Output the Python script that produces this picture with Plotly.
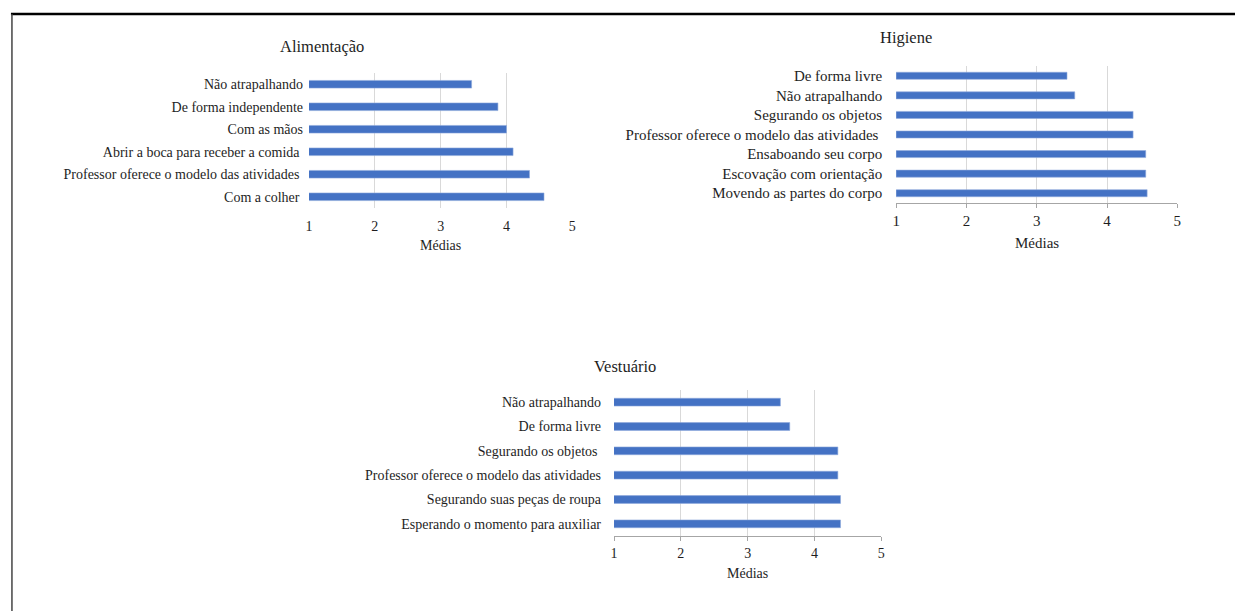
import plotly.graph_objects as go

# --- data -----------------------------------------------------------------
alim_labels = [
    "Não atrapalhando",
    "De forma independente",
    "Com as mãos",
    "Abrir a boca para receber a comida\u00a0",
    "Professor oferece o modelo das atividades\u00a0",
    "Com a colher\u00a0",
]
alim_values = [3.47, 3.87, 4.00, 4.10, 4.35, 4.57]

hig_labels = [
    "De forma livre",
    "Não atrapalhando",
    "Segurando os objetos",
    "Professor oferece o modelo das atividades\u00a0",
    "Ensaboando seu corpo",
    "Escovação com orientação",
    "Movendo as partes do corpo",
]
hig_values = [3.43, 3.54, 4.37, 4.37, 4.55, 4.55, 4.57]

vest_labels = [
    "Não atrapalhando",
    "De forma livre",
    "Segurando os objetos\u00a0",
    "Professor oferece o modelo das atividades",
    "Segurando suas peças de roupa",
    "Esperando o momento para auxiliar",
]
vest_values = [3.49, 3.63, 4.35, 4.35, 4.39, 4.39]

x_ticks = [1, 2, 3, 4, 5]
titles = ["Alimentação", "Higiene", "Vestuário"]
axis_title = "Médias"

# --- layout helpers -------------------------------------------------------
W, H = 1235, 611
BAR = "#4472C4"
GRID = "#d9d9d9"
FONT = "Liberation Serif"
TXT = "#1e1e1e"


def px_x(a, b):
    return [a / W, b / W]


def px_y(top, bottom):
    return [1 - bottom / H, 1 - top / H]


panels = [
    dict(labels=alim_labels, values=alim_values, xd=px_x(307, 572), yd=px_y(73, 208),
         fs=14, standoff=5, baseline=False, width=0.34),
    dict(labels=hig_labels, values=hig_values, xd=px_x(898, 1181), yd=px_y(66, 203),
         fs=15, standoff=13, baseline=True, width=0.36),
    dict(labels=vest_labels, values=vest_values, xd=px_x(614, 883), yd=px_y(390, 536),
         fs=14, standoff=12, baseline=True, width=0.32),
]

fig = go.Figure()
layout = dict(
    width=W, height=H,
    margin=dict(l=0, r=0, t=0, b=0),
    paper_bgcolor="white", plot_bgcolor="white",
    showlegend=False,
    font=dict(family=FONT, color=TXT),
    annotations=[], shapes=[],
)

title_pos = [(320, 47), (908, 37), (625, 366)]
xtitle_pos = [(439, 245), (1040, 243), (748, 573)]

for i, p in enumerate(panels):
    n = "" if i == 0 else str(i + 1)
    fig.add_trace(go.Bar(
        x=p["values"], y=p["labels"], orientation="h",
        marker=dict(color=BAR, line=dict(color="#8faadc", width=0.6)),
        width=p["width"],
        xaxis="x" + n, yaxis="y" + n,
        hovertemplate="%{y}: %{x:.2f}<extra></extra>",
    ))
    layout["xaxis" + n] = dict(
        domain=p["xd"], anchor="y" + n, range=[1, 5],
        tickvals=x_ticks, ticktext=[str(t) for t in x_ticks],
        showgrid=True, gridcolor=GRID, gridwidth=1.2,
        zeroline=False,
        showline=p["baseline"], linecolor="#a6a6a6", linewidth=1,
        ticks="outside",
        ticklen=4 if p["baseline"] else 5,
        tickcolor="#a6a6a6" if p["baseline"] else "rgba(0,0,0,0)",
        tickfont=dict(family=FONT, size=p["fs"], color=TXT),
    )
    layout["yaxis" + n] = dict(
        domain=p["yd"], anchor="x" + n,
        type="category", autorange="reversed",
        showgrid=False, zeroline=False, showline=False, ticks="",
        ticklabelstandoff=p["standoff"],
        tickfont=dict(family=FONT, size=p["fs"], color=TXT),
    )
    tx, ty = title_pos[i]
    layout["annotations"].append(dict(
        text=titles[i], x=tx / W, y=1 - ty / H, xref="paper", yref="paper",
        xanchor="center", yanchor="middle", showarrow=False,
        font=dict(family=FONT, size=16.5, color=TXT),
    ))
    ax_, ay_ = xtitle_pos[i]
    layout["annotations"].append(dict(
        text=axis_title, x=ax_ / W, y=1 - ay_ / H, xref="paper", yref="paper",
        xanchor="center", yanchor="middle", showarrow=False,
        font=dict(family=FONT, size=p["fs"], color=TXT),
    ))

# frame: heavy rule across the top, thinner rule down the left edge
layout["shapes"] += [
    dict(type="line", xref="paper", yref="paper", x0=7 / W, x1=1.02, y0=1 - 14 / H, y1=1 - 14 / H,
         line=dict(color="black", width=2.5)),
    dict(type="line", xref="paper", yref="paper", x0=8 / W, x1=8 / W, y0=-0.02, y1=1 - 14 / H,
         line=dict(color="#444444", width=1.5)),
]

fig.update_layout(**layout)
fig.write_html("out.html")
